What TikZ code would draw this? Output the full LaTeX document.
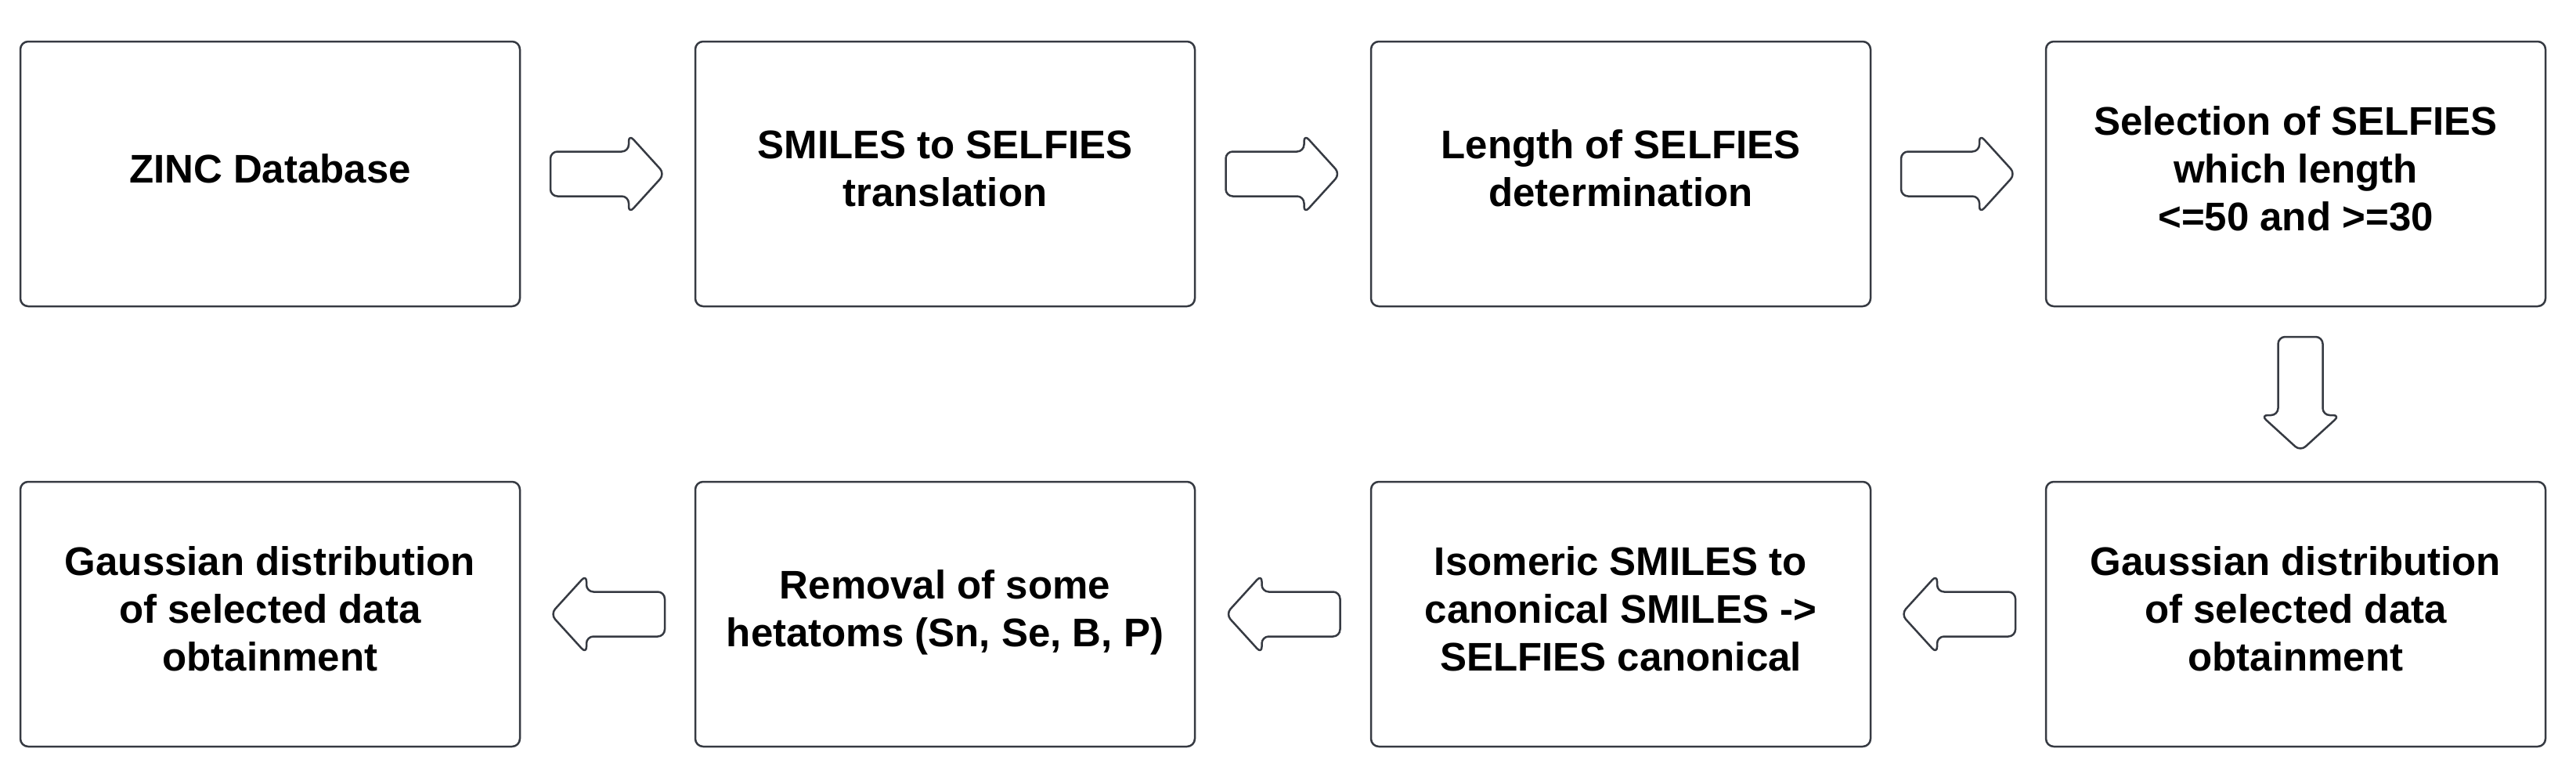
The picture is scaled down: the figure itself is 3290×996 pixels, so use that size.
\documentclass[tikz,border=0pt]{standalone}
\usepackage{fontspec}
\setmainfont{Liberation Sans}
\usetikzlibrary{calc}
\definecolor{edge}{HTML}{363A42}
\tikzset{
  stepbox/.style={draw=edge, line width=2.5pt, rounded corners=10pt, fill=white,
    minimum width=638pt, minimum height=338pt, align=center, inner sep=0pt,
    text depth=14pt,
    font=\fontsize{51}{61}\selectfont\bfseries, text=black},
  pics/blockarrow/.style={code={
    \draw[draw=edge, line width=2.5pt, rounded corners=9pt, line join=round]
      (-73pt,-28.5pt) -- (-73pt,28.5pt) -- (27pt,28.5pt) -- (27pt,50.5pt)
      -- (73pt,0pt) -- (27pt,-50.5pt) -- (27pt,-28.5pt) -- cycle;
  }}
}
\begin{document}
\begin{tikzpicture}[x=1pt,y=-1pt]
\useasboundingbox (0,0) rectangle (3290,996);
% row 1
\node[stepbox] (b1) at (345,222) {ZINC Database};
\node[stepbox] (b2) at (1207,222) {SMILES to SELFIES\\translation};
\node[stepbox] (b3) at (2070,222) {Length of SELFIES\\determination};
\node[stepbox] (b4) at (2932,222) {Selection of SELFIES\\which length\\<=50 and >=30};
% row 2
\node[stepbox] (b5) at (2932,784) {Gaussian distribution\\of selected data\\obtainment};
\node[stepbox] (b6) at (2070,784) {Isomeric SMILES to\\canonical SMILES ->\\SELFIES canonical};
\node[stepbox] (b7) at (1207,784) {Removal of some\\hetatoms (Sn, Se, B, P)};
\node[stepbox] (b8) at (345,784) {Gaussian distribution\\of selected data\\obtainment};
% arrows
\pic at ($(b1.east)!0.5!(b2.west)$) {blockarrow};
\pic at ($(b2.east)!0.5!(b3.west)$) {blockarrow};
\pic at ($(b3.east)!0.5!(b4.west)$) {blockarrow};
\pic[rotate=-90] at ([xshift=6pt]$(b4.south)!0.5!(b5.north)$) {blockarrow};
\pic[rotate=180] at ($(b5.west)!0.5!(b6.east)$) {blockarrow};
\pic[rotate=180] at ($(b6.west)!0.5!(b7.east)$) {blockarrow};
\pic[rotate=180] at ($(b7.west)!0.5!(b8.east)$) {blockarrow};
\end{tikzpicture}
\end{document}
